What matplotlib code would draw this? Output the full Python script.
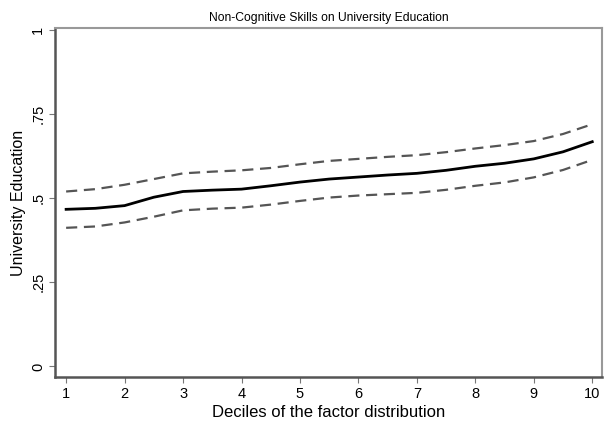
import numpy as np
import matplotlib.pyplot as plt

plt.rcParams['font.family'] = ['Liberation Sans', 'DejaVu Sans']

deciles = [1, 1.5, 2, 2.5, 3, 3.5, 4, 4.5, 5, 5.5, 6, 6.5, 7, 7.5, 8, 8.5, 9, 9.5, 10]
estimate = [.467, .470, .478, .503, .520, .524, .527, .537, .548, .557, .563,
            .569, .574, .583, .595, .604, .617, .638, .668]
upper = [.520, .527, .540, .557, .574, .579, .583, .590, .601, .611, .617,
         .623, .628, .637, .648, .658, .670, .691, .720]
lower = [.412, .416, .428, .445, .464, .469, .472, .481, .492, .502, .508,
         .512, .516, .525, .537, .547, .562, .584, .614]

yticks = [0, .25, .5, .75, 1]
ytick_labels = ['0', '.25', '.5', '.75', '1']

fig = plt.figure(figsize=(6.1, 4.25), dpi=100)
ax = fig.add_axes([0.0902, 0.113, 0.897, 0.821])

ax.plot(deciles, upper, color='#555555', lw=1.6, dashes=(5, 3))
ax.plot(deciles, lower, color='#555555', lw=1.6, dashes=(5, 3))
ax.plot(deciles, estimate, color='black', lw=2.0)

ax.set_xlim(0.81, 10.17)
ax.set_ylim(-0.0315, 1.006)
ax.set_xticks(range(1, 11))
ax.set_yticks(yticks)
ax.set_yticklabels(ytick_labels, rotation=90, va='center')

for s in ['left', 'bottom']:
    ax.spines[s].set_color('#555555')
    ax.spines[s].set_linewidth(1.8)
for s in ['top', 'right']:
    ax.spines[s].set_color('#999999')
    ax.spines[s].set_linewidth(1.5)

ax.tick_params(direction='out', length=4, width=0.8, color='#777777',
               labelsize=10.5, pad=3)

ax.set_xlabel('Deciles of the factor distribution', fontsize=12, labelpad=3)
ax.set_ylabel('University Education', fontsize=11.5, labelpad=4)
ax.set_title('Non-Cognitive Skills on University Education', fontsize=8.7, pad=5)

fig.savefig('out.png', dpi=100)
